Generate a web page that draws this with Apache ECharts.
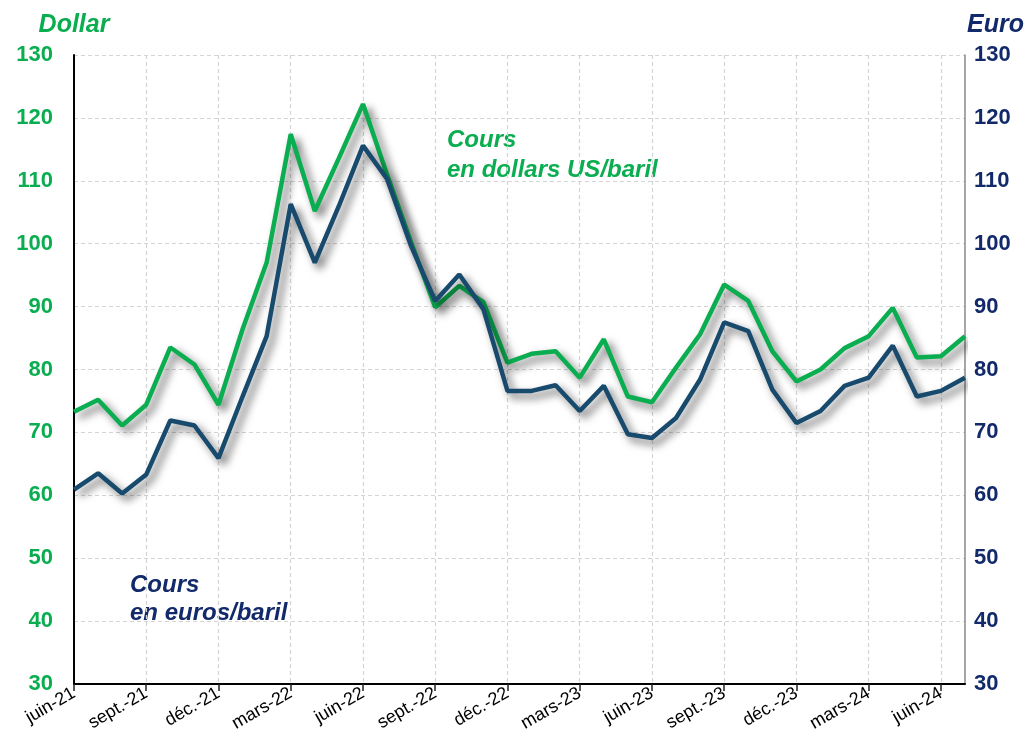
<!DOCTYPE html>
<html>
<head>
<meta charset="utf-8">
<script src="https://cdn.jsdelivr.net/npm/echarts@6/dist/echarts.min.js"></script>
<style>
  html, body { margin: 0; padding: 0; background: #fff; }
  #chart { width: 1028px; height: 751px; }
</style>
</head>
<body>
<div id="chart"></div>
<script>
// mois, de juin 2021 à juillet 2024
const months = [
  'juin-21', 'juil.-21', 'août-21', 'sept.-21', 'oct.-21', 'nov.-21', 'déc.-21',
  'janv.-22', 'févr.-22', 'mars-22', 'avr.-22', 'mai-22', 'juin-22', 'juil.-22', 'août-22', 'sept.-22', 'oct.-22', 'nov.-22', 'déc.-22',
  'janv.-23', 'févr.-23', 'mars-23', 'avr.-23', 'mai-23', 'juin-23', 'juil.-23', 'août-23', 'sept.-23', 'oct.-23', 'nov.-23', 'déc.-23',
  'janv.-24', 'févr.-24', 'mars-24', 'avr.-24', 'mai-24', 'juin-24', 'juil.-24'
];

// cours du baril en dollars US
const dollarValues = [
  73.3, 75.2, 71.1, 74.4, 83.5, 80.8, 74.4,
  86.4, 97.0, 117.4, 105.2, 113.6, 122.2, 111.0, 100.2, 89.9, 93.3, 90.7, 81.1,
  82.5, 82.9, 78.7, 84.8, 75.7, 74.8, 80.3, 85.6, 93.5, 90.9, 82.9, 78.1,
  80.0, 83.4, 85.3, 89.8, 81.9, 82.1, 85.3
];

// cours du baril en euros
const euroValues = [
  60.9, 63.5, 60.3, 63.3, 71.9, 71.1, 65.9,
  75.7, 85.3, 106.3, 97.0, 106.0, 115.6, 110.3, 99.6, 90.9, 95.1, 89.6, 76.6,
  76.6, 77.5, 73.4, 77.4, 69.7, 69.1, 72.3, 78.4, 87.5, 86.1, 76.8, 71.5,
  73.4, 77.4, 78.7, 83.8, 75.7, 76.6, 78.7
];

const green = '#0aad50';
const navy = '#174a6c';
const navyText = '#12296a';
const font = 'Liberation Sans, Arial';

const chart = echarts.init(document.getElementById('chart'));

const shadow = {
  shadowColor: 'rgba(0,0,0,0.6)',
  shadowBlur: 8,
  shadowOffsetX: 5,
  shadowOffsetY: 5
};

const option = {
  animation: false,
  grid: { left: 74, right: 63, top: 55, bottom: 67 },
  xAxis: {
    type: 'category',
    data: months,
    boundaryGap: false,
    axisLine: { lineStyle: { color: '#000', width: 2 } },
    axisTick: { interval: 2, length: 7, lineStyle: { color: '#222', width: 1.5 } },
    axisLabel: {
      interval: 2,
      rotate: 30,
      margin: 8,
      fontFamily: font,
      fontSize: 18,
      color: '#000'
    },
    splitLine: {
      show: true,
      interval: 2,
      lineStyle: { color: '#d4d4d4', type: [4, 3], width: 1.2 }
    }
  },
  yAxis: [
    {
      type: 'value',
      min: 30,
      max: 130,
      interval: 10,
      name: 'Dollar',
      nameLocation: 'end',
      nameGap: 17,
      nameTextStyle: {
        color: green,
        fontFamily: font,
        fontSize: 25,
        fontWeight: 'bold',
        fontStyle: 'italic',
        align: 'center'
      },
      axisLine: { show: true, lineStyle: { color: '#000', width: 2 } },
      axisTick: { show: false },
      axisLabel: {
        margin: 21,
        color: green,
        fontFamily: font,
        fontSize: 22,
        fontWeight: 'bold'
      },
      splitLine: { lineStyle: { color: '#d4d4d4', type: [4, 3], width: 1.2 } }
    },
    {
      type: 'value',
      min: 30,
      max: 130,
      interval: 10,
      position: 'right',
      name: 'Euro',
      nameLocation: 'end',
      nameGap: 17,
      nameTextStyle: {
        color: navyText,
        fontFamily: font,
        fontSize: 25,
        fontWeight: 'bold',
        fontStyle: 'italic',
        align: 'left',
        padding: [0, 0, 0, 2]
      },
      axisLine: { show: true, lineStyle: { color: '#888', width: 1.5 } },
      axisTick: { show: false },
      axisLabel: {
        margin: 9,
        color: navyText,
        fontFamily: font,
        fontSize: 22,
        fontWeight: 'bold'
      },
      splitLine: { show: false }
    }
  ],
  series: [
    {
      name: 'Cours en dollars US/baril',
      type: 'line',
      yAxisIndex: 0,
      data: dollarValues,
      showSymbol: false,
      lineStyle: Object.assign({ color: green, width: 4.5 }, shadow),
      itemStyle: { color: green },
      z: 3
    },
    {
      name: 'Cours en euros/baril',
      type: 'line',
      yAxisIndex: 1,
      data: euroValues,
      showSymbol: false,
      lineStyle: Object.assign({ color: navy, width: 4.5 }, shadow),
      itemStyle: { color: navy },
      z: 4
    }
  ],
  graphic: [
    {
      type: 'text',
      left: 447,
      top: 125,
      style: {
        text: 'Cours\nen dollars US/baril',
        fill: green,
        font: 'italic bold 24px "Liberation Sans", Arial',
        lineHeight: 30
      }
    },
    {
      type: 'text',
      left: 130,
      top: 571,
      style: {
        text: 'Cours\nen euros/baril',
        fill: navyText,
        font: 'italic bold 24px "Liberation Sans", Arial',
        lineHeight: 28
      }
    }
  ]
};

chart.setOption(option);
</script>
</body>
</html>
